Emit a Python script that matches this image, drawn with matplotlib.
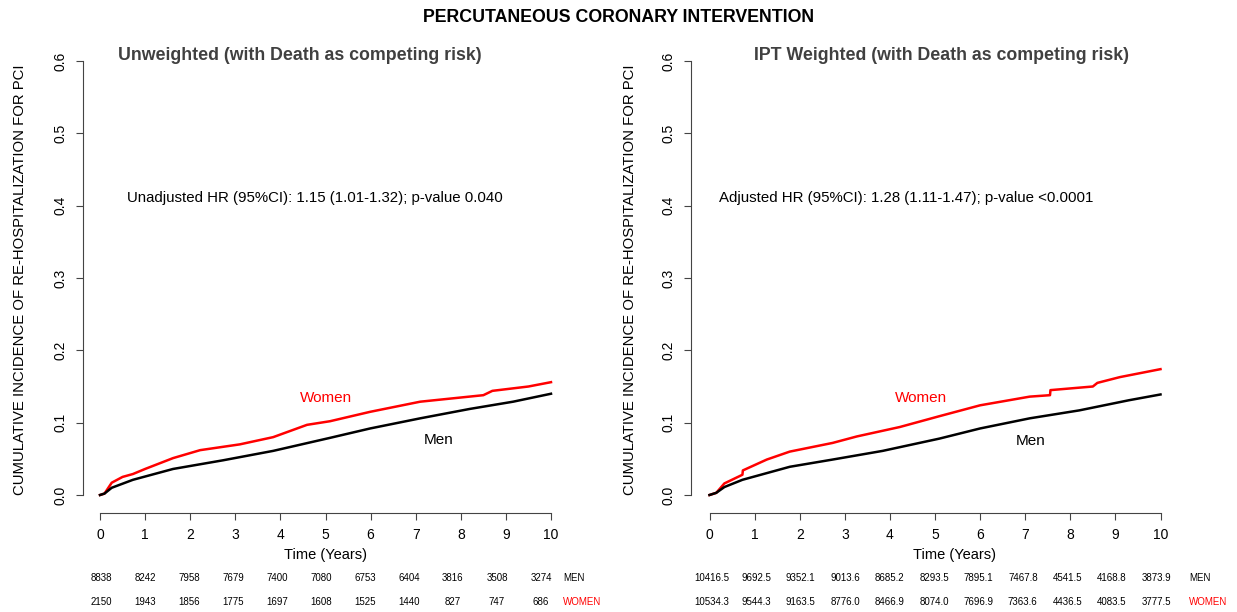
import numpy as np
import matplotlib
matplotlib.use('Agg')
from matplotlib import pyplot as plt

plt.rcParams['font.family'] = ['Liberation Sans', 'DejaVu Sans']

# cumulative incidence (time in years, value)
t_women_unw = [0, 0.1, 0.26, 0.5, 0.73, 1.0, 1.62, 2.22, 3.1, 3.84, 4.59, 5.1, 5.99, 7.1, 8.5, 8.7, 9.5, 10.0]
ci_women_unw = [0, 0.002, 0.017, 0.025, 0.029, 0.036, 0.051, 0.062, 0.070, 0.080, 0.097, 0.102, 0.115, 0.129, 0.138, 0.144, 0.150, 0.156]
t_men_unw = [0, 0.1, 0.26, 0.73, 1.62, 2.73, 3.84, 5.1, 5.99, 7.1, 8.2, 9.16, 10.0]
ci_men_unw = [0, 0.002, 0.010, 0.021, 0.036, 0.048, 0.061, 0.079, 0.092, 0.106, 0.119, 0.129, 0.140]

t_women_w = [0, 0.15, 0.33, 0.73, 0.74, 1.27, 1.78, 2.73, 3.27, 4.22, 5.1, 6.0, 7.1, 7.55, 7.56, 8.5, 8.6, 9.1, 10.0]
ci_women_w = [0, 0.003, 0.016, 0.028, 0.034, 0.049, 0.060, 0.072, 0.081, 0.094, 0.109, 0.124, 0.136, 0.138, 0.145, 0.150, 0.155, 0.163, 0.174]
t_men_w = [0, 0.15, 0.33, 0.73, 1.78, 2.73, 3.84, 5.1, 6.0, 7.1, 8.2, 9.3, 10.0]
ci_men_w = [0, 0.003, 0.011, 0.021, 0.039, 0.049, 0.061, 0.078, 0.092, 0.106, 0.117, 0.131, 0.139]

# numbers at risk
risk_men_unw = ['8838', '8242', '7958', '7679', '7400', '7080', '6753', '6404', '3816', '3508', '3274']
risk_women_unw = ['2150', '1943', '1856', '1775', '1697', '1608', '1525', '1440', '827', '747', '686']
risk_men_w = ['10416.5', '9692.5', '9352.1', '9013.6', '8685.2', '8293.5', '7895.1', '7467.8', '4541.5', '4168.8', '3873.9']
risk_women_w = ['10534.3', '9544.3', '9163.5', '8776.0', '8466.9', '8074.0', '7696.9', '7363.6', '4436.5', '4083.5', '3777.5']

titles = ['Unweighted (with Death as competing risk)', 'IPT Weighted (with Death as competing risk)']
hr_texts = ['Unadjusted HR (95%CI): 1.15 (1.01-1.32); p-value 0.040',
            'Adjusted HR (95%CI): 1.28 (1.11-1.47); p-value <0.0001']

W, H = 1237, 612
fig = plt.figure(figsize=(W / 100, H / 100), dpi=100)

def px(x, y):
    return x / W, 1 - y / H

def panel(left_px, x0_px, curves, title, title_x, hr, hr_x, women_xy, men_xy,
          risk_men, risk_women, risk_x, lab_x, time_x, ylab_x):
    ax = fig.add_axes([left_px / W, (H - 512.7) / H, 486 / W, (512.7 - 50) / H])
    xlo = -(x0_px - left_px) / 45.1
    ax.set_xlim(xlo, xlo + 486 / 45.1)
    ax.set_ylim(-(512.7 - 495) / 723.3, (495 - 50) / 723.3)
    for t, c, col in curves:
        ax.plot(t, c, color=col, lw=1.8)
    for s in ['top', 'right']:
        ax.spines[s].set_visible(False)
    for s in ['left', 'bottom']:
        ax.spines[s].set_color('#444444')
    ax.spines['left'].set_bounds(0, 0.6)
    ax.spines['bottom'].set_bounds(0, 10)
    ax.set_xticks(range(0, 11))
    ax.set_yticks([0, 0.1, 0.2, 0.3, 0.4, 0.5, 0.6])
    ax.set_yticklabels(['0.0', '0.1', '0.2', '0.3', '0.4', '0.5', '0.6'], rotation=90, va='center')
    ax.tick_params(axis='both', labelsize=10, length=5, color='#444444', pad=6)
    ax.text(hr_x, 0.41, hr, fontsize=10.8, va='center')
    ax.text(women_xy[0], women_xy[1], 'Women', color='#ff0000', fontsize=11, ha='center', va='center')
    ax.text(men_xy[0], men_xy[1], 'Men', color='black', fontsize=11, ha='center', va='center')
    fig.text(*px(title_x, 55), title, fontsize=12.8, fontweight='bold', color='#404040', ha='center', va='center')
    fig.text(*px(time_x, 555), 'Time (Years)', fontsize=10.5, ha='center', va='center')
    fig.text(*px(ylab_x, 280), 'CUMULATIVE INCIDENCE OF RE-HOSPITALIZATION FOR PCI',
             fontsize=10.7, rotation=90, ha='center', va='center')
    for i, (m, w) in enumerate(zip(risk_men, risk_women)):
        fig.text(*px(risk_x[i], 578), m, fontsize=7, ha='center', va='center')
        fig.text(*px(risk_x[i], 602), w, fontsize=7, ha='center', va='center')
    fig.text(*px(lab_x, 578), 'MEN', fontsize=7, ha='left', va='center')
    fig.text(*px(lab_x, 602), 'WOMEN', fontsize=7, color='#ff0000', ha='left', va='center')
    return ax

panel(82.7, 100, [(t_women_unw, ci_women_unw, '#ff0000'), (t_men_unw, ci_men_unw, 'black')],
      titles[0], 300, hr_texts[0], 0.6, (5.0, 0.134), (7.5, 0.076),
      risk_men_unw, risk_women_unw, np.linspace(101, 541, 11), 563, 325, 20)
panel(690.7, 709.5, [(t_women_w, ci_women_w, '#ff0000'), (t_men_w, ci_men_w, 'black')],
      titles[1], 942, hr_texts[1], 0.22, (4.7, 0.134), (7.13, 0.075),
      risk_men_w, risk_women_w, np.linspace(712, 1156, 11), 1189, 955, 630)

fig.text(*px(619, 18), 'PERCUTANEOUS CORONARY INTERVENTION', fontsize=12.8, fontweight='bold',
         ha='center', va='center')

fig.savefig('out.png', dpi=100)
